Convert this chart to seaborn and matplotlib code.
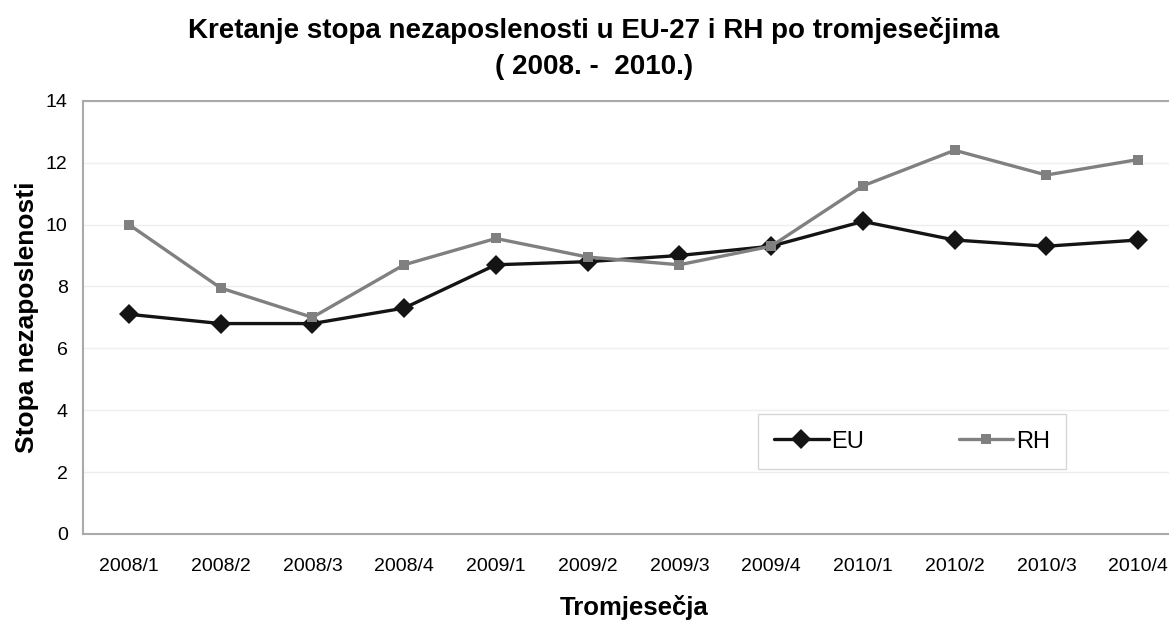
import pandas as pd
import matplotlib
matplotlib.use('Agg')
import matplotlib.pyplot as plt
import seaborn as sns

quarters = ['2008/1', '2008/2', '2008/3', '2008/4', '2009/1', '2009/2',
            '2009/3', '2009/4', '2010/1', '2010/2', '2010/3', '2010/4']
eu = [7.1, 6.8, 6.8, 7.3, 8.7, 8.8, 9.0, 9.3, 10.1, 9.5, 9.3, 9.5]
rh = [10.0, 7.95, 7.0, 8.7, 9.55, 8.95, 8.7, 9.3, 11.25, 12.4, 11.6, 12.1]

df = pd.DataFrame({'Tromjesecje': quarters * 2,
                   'Stopa': eu + rh,
                   'Serija': ['EU'] * len(eu) + ['RH'] * len(rh)})

sns.set_style('white')
plt.rcParams['font.family'] = ['Liberation Sans', 'DejaVu Sans']
plt.rcParams['text.color'] = 'black'
plt.rcParams['axes.labelcolor'] = 'black'
plt.rcParams['xtick.labelcolor'] = 'black'
plt.rcParams['ytick.labelcolor'] = 'black'

fig = plt.figure(figsize=(11.69, 6.22), dpi=100)
# plot area runs past the right edge of the picture, as in the original
ax = fig.add_axes([83 / 1169, 0.1415, 1101 / 1169, 0.6965])

sns.lineplot(data=df[df['Serija'] == 'EU'], x='Tromjesecje', y='Stopa',
             color='#141414', marker='D', markersize=10, markeredgewidth=0,
             linewidth=2.4, label='EU', ax=ax)
sns.lineplot(data=df[df['Serija'] == 'RH'], x='Tromjesecje', y='Stopa',
             color='#808080', marker='s', markersize=7.5, markeredgewidth=0,
             linewidth=2.4, label='RH', ax=ax)

ax.set_ylim(0, 14)
ax.set_yticks(range(0, 15, 2))
ax.set_xlim(-0.5, len(quarters) - 0.5)
ax.set_xticks(range(len(quarters)))
ax.set_xticklabels(quarters)
ax.set_xticks([i + 0.5 for i in range(-1, len(quarters))], minor=True)
ax.tick_params(axis='x', which='major', length=0, pad=17, labelsize=14)
ax.tick_params(axis='x', which='minor', length=5, color='#bbbbbb', width=1)
ax.tick_params(axis='y', length=5, color='#aaaaaa', labelsize=14, pad=6)
ax.yaxis.grid(True, color='#eeeeee', linewidth=1)
ax.set_axisbelow(True)

for s in ['left', 'bottom', 'top']:
    ax.spines[s].set_color('#aaaaaa')
    ax.spines[s].set_linewidth(1.5)
ax.spines['right'].set_visible(False)

fig.text(634 / 1169, 0.012, 'Tromjesečja', fontsize=18.5, fontweight='bold',
         ha='center', va='baseline')
ax.set_xlabel('')
ax.set_ylabel('Stopa nezaposlenosti', fontsize=19, fontweight='bold', labelpad=5)

fig.suptitle('Kretanje stopa nezaposlenosti u EU-27 i RH po tromjesečjima\n( 2008. -  2010.)',
             fontsize=20, fontweight='bold', x=0.508, y=0.972, linespacing=1.5)

handles, labels = ax.get_legend_handles_labels()
leg = ax.legend(handles, labels, ncol=2, loc='center', bbox_to_anchor=(0.753, 0.213),
                fontsize=17, frameon=True, fancybox=False, edgecolor='#cccccc',
                handlelength=2.3, columnspacing=4.0, borderpad=0.7, handletextpad=0.12,
                borderaxespad=0)
leg.get_frame().set_linewidth(1)

fig.savefig('out.png', dpi=100)
